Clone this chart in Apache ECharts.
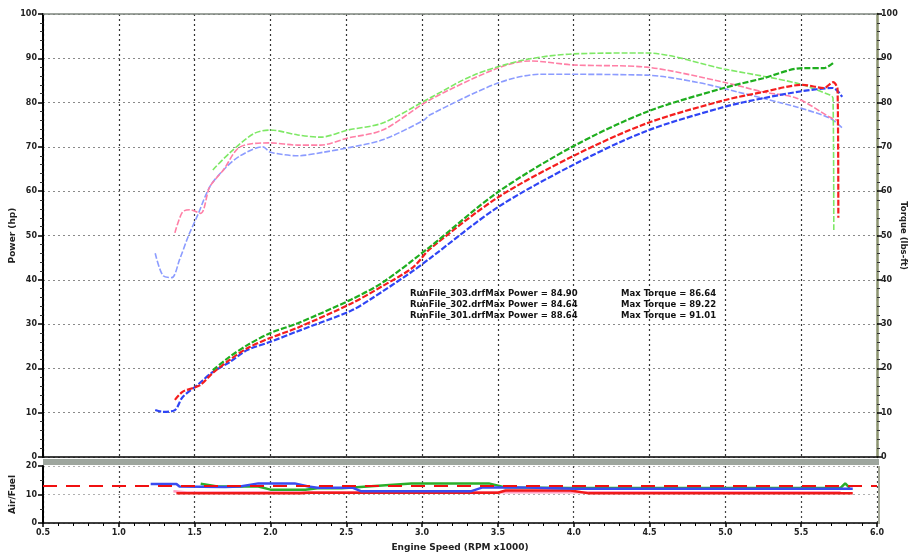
<!DOCTYPE html>
<html><head><meta charset="utf-8">
<script src="https://cdn.jsdelivr.net/npm/echarts@6/dist/echarts.min.js"></script>
<style>html,body{margin:0;padding:0;background:#fff}#c{width:911px;height:554px}</style>
</head><body><div id="c"></div>
<script>
// ---- data (engine speed in RPM x1000) ----
var xTicks = [0.5,1.0,1.5,2.0,2.5,3.0,3.5,4.0,4.5,5.0,5.5,6.0];

var bluePowerRpm = [1.24,1.29,1.37,1.42,1.52,1.62,1.73,1.85,2.00,2.18,2.53,2.66,2.94,3.05,3.50,4.00,4.48,4.99,5.25,5.51,5.71,5.77];
var bluePower    = [10.6,10.2,10.6,13.5,16.3,19.2,21.4,24.2,26.0,28.4,33.0,35.6,42.0,44.8,56.4,66.0,73.6,79.0,81.0,82.6,83.3,81.3];

var redPowerRpm = [1.37,1.42,1.49,1.54,1.62,1.73,1.85,2.00,2.18,2.53,2.74,2.94,3.05,3.50,4.00,4.48,4.99,5.25,5.51,5.65,5.71,5.74,5.745];
var redPower    = [12.9,14.7,15.6,16.3,19.0,21.9,24.6,26.9,29.2,34.6,38.6,42.8,46.9,58.6,68.0,75.3,80.5,82.4,84.0,83.3,84.6,83.0,54.0];

var greenPowerRpm = [1.62,1.73,1.85,2.00,2.18,2.53,2.74,3.05,3.50,4.00,4.48,4.99,5.25,5.51,5.65,5.71];
var greenPower    = [19.6,22.6,25.3,28.0,30.2,35.5,39.4,47.4,59.8,70.2,77.9,83.3,85.5,87.8,87.8,88.9];

var blueTorqueRpm = [1.24,1.29,1.35,1.40,1.46,1.52,1.60,1.69,1.80,1.95,2.00,2.18,2.35,2.51,2.74,3.01,3.05,3.50,3.78,4.48,4.81,5.08,5.47,5.69,5.77];
var blueTorque    = [46.0,41.0,40.5,44.5,50.0,54.6,61.0,64.8,68.0,70.0,68.8,68.0,68.8,69.8,71.6,76.0,77.2,84.4,86.4,86.2,84.6,82.4,79.0,76.5,74.3];

var redTorqueRpm = [1.37,1.42,1.47,1.54,1.60,1.69,1.80,2.00,2.18,2.33,2.51,2.74,3.05,3.50,3.71,4.00,4.48,4.99,5.25,5.47,5.69,5.74];
var redTorque    = [50.6,55.3,55.8,55.0,61.0,64.8,70.0,70.9,70.4,70.4,72.0,73.8,80.6,87.8,89.4,88.5,88.0,84.6,82.4,81.0,76.7,76.0];

var greenTorqueRpm = [1.62,1.73,1.89,2.00,2.18,2.33,2.51,2.74,3.05,3.34,3.67,4.00,4.48,4.99,5.47,5.69,5.71,5.715];
var greenTorque    = [64.8,68.6,73.0,73.8,72.7,72.2,73.8,75.4,81.0,86.2,89.6,91.0,91.2,87.6,84.4,81.7,81.0,51.0];

var afrTarget = 13;
var blueAfrRpm = [1.21,1.38,1.40,1.70,1.80,1.92,2.16,2.25,2.31,2.54,2.60,3.32,3.40,3.63,4.02,5.84];
var blueAfr    = [13.7,13.7,12.8,12.6,12.8,13.9,13.9,12.8,12.4,12.4,11.1,11.1,12.5,12.5,12.0,12.0];
var redAfrRpm = [1.38,2.20,2.25,3.50,3.55,3.98,4.10,5.84];
var redAfr    = [10.4,10.4,10.6,10.6,11.4,11.4,10.4,10.4];
var pinkAfrRpm = [1.36,1.45,2.10,3.50,3.71,5.76];
var pinkAfr    = [11.1,10.7,10.8,10.8,10.8,10.8];
var greenAfrRpm = [1.54,1.65,1.92,2.00,2.23,2.31,2.47,2.93,3.44,3.55,3.98,5.76,5.79,5.82];
var greenAfr    = [13.8,12.8,12.8,11.7,11.7,12.2,12.2,13.9,13.9,12.5,12.3,12.3,13.9,12.3];

var runFiles  = ['RunFile_303.drf','RunFile_302.drf','RunFile_301.drf'];
var maxPowers = ['84.90','84.64','88.64'];
var maxTorques= ['86.64','89.22','91.01'];

function pairs(xs, ys){ return xs.map(function(x,i){ return [x, ys[i]]; }); }

var FONT = 'DejaVu Sans';
var lblStyle = {fontFamily: FONT, fontSize: 8, fontWeight: 'bold', color: '#222'};
var nameStyle = {fontFamily: FONT, fontSize: 9, fontWeight: 'bold', color: '#222'};

function curve(name, xs, ys, color, yAxisIndex, width){
  return {name: name, type: 'line', xAxisIndex: 0, yAxisIndex: yAxisIndex, data: pairs(xs, ys),
    showSymbol: false, smooth: 0.3, lineStyle: {color: color, width: width, type: [6,2]}, z: 3};
}
function afr(name, xs, ys, color){
  return {name: name, type: 'line', xAxisIndex: 1, yAxisIndex: 2, data: pairs(xs, ys),
    showSymbol: false, lineStyle: {color: color, width: 2.5}, z: 3};
}

var graphics = [
  {type: 'rect', shape: {x: 43, y: 459, width: 836, height: 6}, style: {fill: '#9ea69e'}, z: 10},
  {type: 'line', shape: {x1: 879, y1: 466, x2: 879, y2: 524}, style: {stroke: '#a6aa9a', lineWidth: 2}, z: 10},
  {type: 'line', shape: {x1: 43, y1: 14, x2: 877, y2: 14}, style: {stroke: '#7d857d', lineWidth: 1.5}, z: 10}
];
runFiles.forEach(function(f, i){
  graphics.push({type: 'text', left: 410, top: 289 + i * 11,
    style: {text: f + 'Max Power = ' + maxPowers[i], font: 'bold 8.5px "DejaVu Sans"', fill: '#111'}, z: 20});
  graphics.push({type: 'text', left: 621, top: 289 + i * 11,
    style: {text: 'Max Torque = ' + maxTorques[i], font: 'bold 8.5px "DejaVu Sans"', fill: '#111'}, z: 20});
});

var option = {
  backgroundColor: '#fff',
  animation: false,
  grid: [
    {left: 43, right: 34, top: 14, height: 443, show: false, containLabel: false, outerBoundsMode: 'none'},
    {left: 43, right: 34, top: 466, height: 57, show: false, containLabel: false, outerBoundsMode: 'none'}
  ],
  xAxis: [
    {type: 'value', gridIndex: 0, min: 0.5, max: 6.0, interval: 0.5,
     axisLine: {show: true, onZero: false, lineStyle: {color: '#000', width: 1.5}},
     axisTick: {show: false}, axisLabel: {show: false},
     splitLine: {show: true, lineStyle: {color: '#333', type: [2,3], width: 1.2}}},
    {type: 'value', gridIndex: 1, min: 0.5, max: 6.0, interval: 0.5,
     name: 'Engine Speed (RPM x1000)', nameLocation: 'middle', nameGap: 20, nameMoveOverlap: false, nameTextStyle: nameStyle,
     axisLine: {show: true, onZero: false, lineStyle: {color: '#000', width: 1.5}},
     axisTick: {show: true, length: 4, lineStyle: {color: '#000', width: 1.5}},
     minorTick: {show: true, splitNumber: 5, length: 3, lineStyle: {color: '#000'}},
     axisLabel: Object.assign({formatter: function(v){ return v.toFixed(1); }, margin: 6}, lblStyle),
     splitLine: {show: true, lineStyle: {color: '#444', type: [2,3], width: 1.2}}}
  ],
  yAxis: [
    {type: 'value', gridIndex: 0, min: 0, max: 100, interval: 10, position: 'left',
     name: 'Power (hp)', nameLocation: 'middle', nameGap: 26, nameMoveOverlap: false, nameTextStyle: nameStyle,
     axisLine: {show: true, lineStyle: {color: '#000', width: 2}},
     axisTick: {show: true, length: 5, lineStyle: {color: '#000', width: 1.5}},
     minorTick: {show: true, splitNumber: 5, length: 3, lineStyle: {color: '#333'}},
     axisLabel: Object.assign({margin: 6}, lblStyle),
     splitLine: {show: true, lineStyle: {color: '#8a8a8a', type: [2,3], width: 1.2}}},
    {type: 'value', gridIndex: 0, min: 0, max: 100, interval: 10, position: 'right',
     name: 'Torque (lbs-ft)', nameLocation: 'middle', nameGap: 22, nameRotate: -90, nameMoveOverlap: false,
     nameTextStyle: {fontFamily: FONT, fontSize: 8.5, fontWeight: 'bold', color: '#222'},
     axisLine: {show: true, lineStyle: {color: '#8c9470', width: 2.5}},
     axisTick: {show: true, length: 5, inside: false, lineStyle: {color: '#000', width: 1.5}},
     minorTick: {show: true, splitNumber: 5, length: 3, lineStyle: {color: '#333'}},
     axisLabel: Object.assign({margin: 4}, lblStyle),
     splitLine: {show: false}},
    {type: 'value', gridIndex: 1, min: 0, max: 20, interval: 10, position: 'left',
     name: 'Air/Fuel', nameLocation: 'middle', nameGap: 26, nameMoveOverlap: false, nameTextStyle: nameStyle,
     axisLine: {show: true, lineStyle: {color: '#000', width: 2}},
     axisTick: {show: true, length: 5, lineStyle: {color: '#000', width: 1.5}},
     minorTick: {show: true, splitNumber: 2, length: 3, lineStyle: {color: '#333'}},
     axisLabel: Object.assign({margin: 6}, lblStyle),
     splitLine: {show: true, lineStyle: {color: '#b0b0b0', type: [2,3]}}}
  ],
  series: [
    curve('Blue Torque', blueTorqueRpm, blueTorque, '#8c9cff', 1, 1.6),
    curve('Red Torque', redTorqueRpm, redTorque, '#ff7fa6', 1, 1.6),
    curve('Green Torque', greenTorqueRpm, greenTorque, '#7ee865', 1, 1.6),
    curve('Blue Power', bluePowerRpm, bluePower, '#2f45f5', 0, 2.2),
    curve('Red Power', redPowerRpm, redPower, '#f51e1e', 0, 2.2),
    curve('Green Power', greenPowerRpm, greenPower, '#1fae1f', 0, 2.2),
    afr('Pink AFR', pinkAfrRpm, pinkAfr, '#ff9cc0'),
    afr('Red AFR', redAfrRpm, redAfr, '#f01a1a'),
    afr('Green AFR', greenAfrRpm, greenAfr, '#2aae2a'),
    afr('Blue AFR', blueAfrRpm, blueAfr, '#3a4cf0'),
    {name: 'Target AFR', type: 'line', xAxisIndex: 1, yAxisIndex: 2,
     data: [[xTicks[0], afrTarget], [xTicks[xTicks.length - 1], afrTarget]],
     showSymbol: false, lineStyle: {color: '#f01010', width: 2, type: [14,9]}, z: 5}
  ],
  graphic: graphics
};
echarts.init(document.getElementById('c')).setOption(option);
</script></body></html>
